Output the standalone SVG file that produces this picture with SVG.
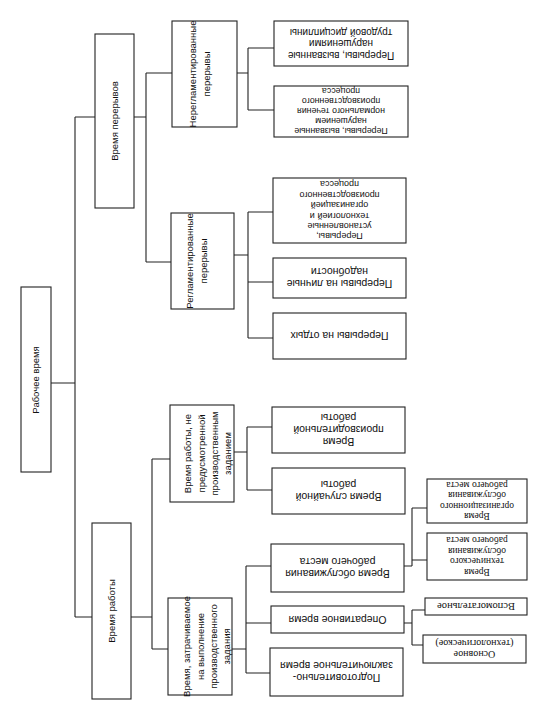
<svg xmlns="http://www.w3.org/2000/svg" width="541" height="728" viewBox="0 0 541 728">
<style>
rect{fill:#fff;stroke:#222;stroke-width:1.1}
.c path{fill:none;stroke:#222;stroke-width:1.1}
text{fill:#111;text-anchor:middle}
.m{font-family:"Liberation Sans",Arial,sans-serif;font-size:9.5px}
.l{font-family:"Liberation Sans",Arial,sans-serif;font-size:10.5px}
.s{font-family:"Liberation Serif","Times New Roman",serif;font-size:9.5px}
</style>
<rect x="0" y="0" width="541" height="728" style="stroke:none"/>
<g class="c">
<path d="M51 383H75M75 117V617M75 117H95M75 617H92"/>
<path d="M134 117H146M146 73V262M146 73H172M146 262H171"/>
<path d="M237 73H248M248 48V110M248 48H274M248 110H274"/>
<path d="M234 255H248M248 212V338M248 212H273M248 282H273M248 338H273"/>
<path d="M131 617H152M152 459V649M152 459H170M152 649H168"/>
<path d="M234 452H247M247 427V490M247 427H272M247 490H272"/>
<path d="M232 649H246M246 566V673M246 566H271M246 623H271M246 673H270"/>
<path d="M404 566H412M412 508V566M412 508H427M412 560H427"/>
<path d="M404 623H412M412 610V645M412 610H425M412 645H423"/>
</g>
<g id="root"><rect x="21" y="287" width="30" height="185"/>
<text class="m" transform="translate(36,380) rotate(-90)"><tspan x="0" y="3.3">Рабочее время</tspan></text></g>
<g id="n1"><rect x="95" y="34" width="39" height="174"/>
<text class="m" transform="translate(114.5,121) rotate(-90)"><tspan x="0" y="3.3">Время перерывов</tspan></text></g>
<g id="n2"><rect x="92" y="523" width="39" height="176"/>
<text class="m" transform="translate(111.5,611) rotate(-90)"><tspan x="0" y="3.3">Время работы</tspan></text></g>
<g id="n11"><rect x="172" y="21" width="65" height="106"/>
<text class="m" transform="translate(200,74) rotate(-90)"><tspan x="0" y="-3.7">Нерегламентированные</tspan><tspan x="0" y="10.3">перерывы</tspan></text></g>
<g id="n12"><rect x="171" y="213" width="63" height="96"/>
<text class="m" transform="translate(197,261) rotate(-90)"><tspan x="0" y="-3.7">Регламентированные</tspan><tspan x="0" y="10.3">перерывы</tspan></text></g>
<g id="n21"><rect x="170" y="405" width="64" height="97"/>
<text class="m" transform="translate(208,453.5) rotate(-90)"><tspan x="0" y="-16.6">Время работы, не</tspan><tspan x="0" y="-3.3">предусмотренной</tspan><tspan x="0" y="10">производственным</tspan><tspan x="0" y="23.3">заданием</tspan></text></g>
<g id="n22"><rect x="168" y="598" width="64" height="97"/>
<text class="m" transform="translate(207,646.5) rotate(-90)"><tspan x="0" y="-16.6">Время, затрачиваемое</tspan><tspan x="0" y="-3.3">на выполнение</tspan><tspan x="0" y="10">производственного</tspan><tspan x="0" y="23.3">задания</tspan></text></g>
<g id="l111"><rect x="274" y="21" width="134" height="45"/>
<text class="l" style="font-size:10px" transform="translate(341,43.5) rotate(180)"><tspan x="0" y="-8">Перерывы, вызванные</tspan><tspan x="0" y="3.5">нарушениями</tspan><tspan x="0" y="15">трудовой дисциплины</tspan></text></g>
<g id="l112"><rect x="274" y="86" width="134" height="51"/>
<text class="l" style="font-size:8.8px" transform="translate(341,111.5) rotate(180)"><tspan x="0" y="-16.9">Перерывы, вызванные</tspan><tspan x="0" y="-6.9">нарушением</tspan><tspan x="0" y="3.1">нормального течения</tspan><tspan x="0" y="13.1">производственного</tspan><tspan x="0" y="23.1">процесса</tspan></text></g>
<g id="l121"><rect x="273" y="178" width="133" height="65"/>
<text class="l" style="font-size:9px" transform="translate(339.5,210.5) rotate(180)"><tspan x="0" y="-22.8">Перерывы,</tspan><tspan x="0" y="-12.4">установленные</tspan><tspan x="0" y="-2">технологией и</tspan><tspan x="0" y="8.4">организацией</tspan><tspan x="0" y="18.8">производственного</tspan><tspan x="0" y="29.2">процесса</tspan></text></g>
<g id="l122"><rect x="273" y="258" width="133" height="40"/>
<text class="l" transform="translate(339.5,278) rotate(180)"><tspan x="0" y="-2.3">Перерывы на личные</tspan><tspan x="0" y="9.7">надобности</tspan></text></g>
<g id="l123"><rect x="273" y="313" width="133" height="46"/>
<text class="l" transform="translate(339.5,336) rotate(180)"><tspan x="0" y="3.7">Перерывы на отдых</tspan></text></g>
<g id="l211"><rect x="272" y="407" width="133" height="46"/>
<text class="l" transform="translate(338.5,430) rotate(180)"><tspan x="0" y="-8.3">Время</tspan><tspan x="0" y="3.7">производительной</tspan><tspan x="0" y="15.7">работы</tspan></text></g>
<g id="l212"><rect x="272" y="468" width="133" height="46"/>
<text class="l" transform="translate(338.5,491) rotate(180)"><tspan x="0" y="-2.3">Время случайной</tspan><tspan x="0" y="9.7">работы</tspan></text></g>
<g id="l221"><rect x="271" y="544" width="133" height="48"/>
<text class="l" transform="translate(337.5,568) rotate(180)"><tspan x="0" y="-2.3">Время обслуживания</tspan><tspan x="0" y="9.7">рабочего места</tspan></text></g>
<g id="l222"><rect x="271" y="606" width="133" height="27"/>
<text class="l" transform="translate(337.5,619.5) rotate(180)"><tspan x="0" y="3.7">Оперативное время</tspan></text></g>
<g id="l223"><rect x="270" y="648" width="133" height="48"/>
<text class="l" transform="translate(336.5,672) rotate(180)"><tspan x="0" y="-2.3">Подготовительно-</tspan><tspan x="0" y="9.7">заключительное время</tspan></text></g>
<g id="s1"><rect x="427" y="479" width="100" height="44"/>
<text class="s" transform="translate(477,501) rotate(180)"><tspan x="0" y="-12.45">Время</tspan><tspan x="0" y="-1.95">организационного</tspan><tspan x="0" y="8.55">обслуживания</tspan><tspan x="0" y="19.05">рабочего места</tspan></text></g>
<g id="s2"><rect x="427" y="533" width="100" height="47"/>
<text class="s" transform="translate(477,556.5) rotate(180)"><tspan x="0" y="-12.45">Время</tspan><tspan x="0" y="-1.95">технического</tspan><tspan x="0" y="8.55">обслуживания</tspan><tspan x="0" y="19.05">рабочего места</tspan></text></g>
<g id="s3"><rect x="425" y="598" width="102" height="17"/>
<text class="s" style="font-size:10.5px" transform="translate(476,606.5) rotate(180)"><tspan x="0" y="3.7">Вспомогательное</tspan></text></g>
<g id="s4"><rect x="423" y="635" width="103" height="28"/>
<text class="s" style="font-size:10px" transform="translate(474.5,649) rotate(180)"><tspan x="0" y="-2">Основное</tspan><tspan x="0" y="9">(технологическое)</tspan></text></g>
</svg>
